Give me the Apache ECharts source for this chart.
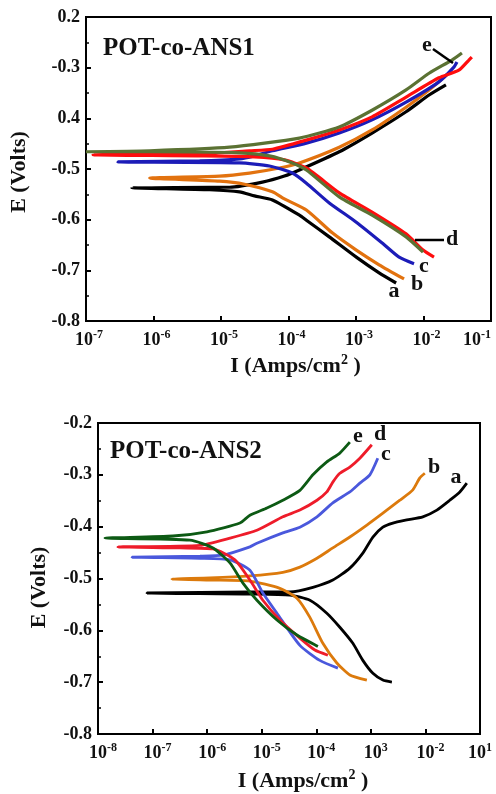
<!DOCTYPE html>
<html>
<head>
<meta charset="utf-8">
<script src="https://cdn.jsdelivr.net/npm/echarts@6/dist/echarts.min.js"></script>
<style>
html,body{margin:0;padding:0;background:#fff;}
#c{width:496px;height:794px;}
</style>
</head>
<body>
<div id="c"></div>
<script>
// ---------- data (I in A/cm2, E in V) ----------
const topTitle = 'POT-co-ANS1';
const botTitle = 'POT-co-ANS2';
const seriesNames = ['a', 'b', 'c', 'd', 'e'];

const topYLabels = ['-0.8', '-0.7', '-0.6', '-0.5', '0.4', '-0.3', '0.2'];
const botYLabels = ['-0.8', '-0.7', '-0.6', '-0.5', '-0.4', '-0.3', '-0.2'];
const topXExps = ['-7', '-6', '-5', '-4', '-3', '-2', '-1'];
const botXExps = ['-8', '-7', '-6', '-5', '-4', '3', '-2', '1'];

const topA = [[3.93e-3,-0.725],[2.20e-3,-0.705],[1.01e-3,-0.674],[4.02e-4,-0.634],[1.84e-4,-0.601],[1.45e-4,-0.591],[5.78e-5,-0.561],[3.13e-5,-0.553],[1.88e-5,-0.545],[6.79e-6,-0.541],[4.78e-7,-0.537],[6.79e-6,-0.536],[1.34e-5,-0.536],[4.11e-5,-0.526],[8.69e-5,-0.514],[1.45e-4,-0.502],[5.65e-4,-0.466],[1.73e-3,-0.429],[5.52e-3,-0.387],[1.21e-2,-0.354],[2.15e-2,-0.334]];
const topB = [[5.15e-3,-0.717],[2.20e-3,-0.689],[1.01e-3,-0.660],[4.45e-4,-0.626],[1.84e-4,-0.581],[8.69e-5,-0.559],[5.78e-5,-0.545],[2.23e-5,-0.530],[9.53e-6,-0.524],[8.81e-7,-0.518],[9.53e-6,-0.514],[2.64e-5,-0.508],[7.34e-5,-0.498],[1.45e-4,-0.488],[5.65e-4,-0.457],[1.73e-3,-0.423],[5.52e-3,-0.378],[1.21e-2,-0.344],[2.22e-2,-0.314]];
const topC = [[7.24e-3,-0.687],[4.35e-3,-0.674],[2.44e-3,-0.646],[1.01e-3,-0.605],[4.02e-4,-0.567],[1.84e-4,-0.528],[1.14e-4,-0.508],[5.22e-5,-0.494],[1.88e-5,-0.488],[2.97e-7,-0.486],[4.83e-6,-0.484],[1.88e-5,-0.480],[3.13e-5,-0.474],[5.78e-5,-0.464],[1.84e-4,-0.449],[5.65e-4,-0.429],[1.73e-3,-0.403],[5.52e-3,-0.368],[1.69e-2,-0.328],[2.82e-2,-0.299],[3.13e-2,-0.289]];
const topD = [[1.43e-2,-0.674],[9.84e-3,-0.660],[5.52e-3,-0.628],[1.73e-3,-0.585],[5.65e-4,-0.547],[1.84e-4,-0.498],[8.69e-5,-0.482],[3.13e-5,-0.476],[4.83e-6,-0.474],[1.27e-7,-0.472],[4.83e-6,-0.470],[2.64e-5,-0.464],[5.78e-5,-0.461],[1.84e-4,-0.443],[5.65e-4,-0.423],[1.73e-3,-0.397],[5.52e-3,-0.358],[1.69e-2,-0.320],[3.34e-2,-0.305],[4.70e-2,-0.285],[5.20e-2,-0.279]];
const topE = [[9.84e-3,-0.664],[5.52e-3,-0.634],[1.73e-3,-0.591],[5.65e-4,-0.555],[1.84e-4,-0.502],[1.14e-4,-0.488],[5.22e-5,-0.474],[1.88e-5,-0.468],[8.81e-7,-0.466],[1.0e-7,-0.466],[8.81e-7,-0.464],[1.34e-5,-0.457],[1.45e-4,-0.439],[5.65e-4,-0.417],[1.73e-3,-0.384],[5.52e-3,-0.344],[1.21e-2,-0.311],[2.64e-2,-0.285],[3.71e-2,-0.271]];

const botA = [[2.43e-3,-0.700],[1.66e-3,-0.696],[1.09e-3,-0.683],[7.13e-4,-0.658],[4.68e-4,-0.625],[2.70e-4,-0.594],[1.56e-4,-0.567],[7.64e-5,-0.542],[3.28e-5,-0.532],[6.08e-6,-0.530],[7.89e-8,-0.528],[6.08e-6,-0.526],[3.28e-5,-0.526],[8.67e-5,-0.517],[2.01e-4,-0.503],[4.12e-4,-0.480],[7.13e-4,-0.451],[1.09e-3,-0.420],[1.66e-3,-0.401],[2.53e-3,-0.393],[4.56e-3,-0.387],[8.95e-3,-0.381],[1.62e-2,-0.368],[2.80e-2,-0.349],[4.27e-2,-0.333],[5.73e-2,-0.316]];
const botB = [[8.45e-4,-0.696],[4.12e-4,-0.686],[2.38e-4,-0.663],[1.32e-4,-0.625],[7.64e-5,-0.575],[4.42e-5,-0.538],[2.15e-5,-0.519],[6.08e-6,-0.505],[1.12e-6,-0.503],[2.26e-7,-0.501],[1.12e-6,-0.499],[6.08e-6,-0.495],[2.44e-5,-0.488],[5.01e-5,-0.478],[1.03e-4,-0.461],[2.01e-4,-0.441],[4.12e-4,-0.420],[8.45e-4,-0.397],[1.66e-3,-0.374],[3.40e-3,-0.349],[5.88e-3,-0.329],[7.89e-3,-0.306],[9.75e-3,-0.297]];
const botC = [[2.49e-4,-0.673],[1.16e-4,-0.658],[5.01e-5,-0.629],[1.90e-5,-0.567],[1.05e-5,-0.528],[6.08e-6,-0.484],[2.62e-6,-0.464],[7.38e-7,-0.461],[4.20e-8,-0.459],[7.38e-7,-0.457],[1.95e-6,-0.455],[6.08e-6,-0.439],[8.17e-6,-0.432],[2.44e-5,-0.412],[5.01e-5,-0.401],[1.03e-4,-0.381],[2.01e-4,-0.354],[4.12e-4,-0.333],[6.29e-4,-0.316],[9.59e-4,-0.300],[1.34e-3,-0.268]];
const botD = [[1.63e-4,-0.648],[9.42e-5,-0.638],[5.01e-5,-0.615],[2.15e-5,-0.580],[1.05e-5,-0.542],[6.08e-6,-0.503],[3.23e-6,-0.464],[1.28e-6,-0.443],[3.18e-7,-0.441],[2.32e-8,-0.439],[7.38e-7,-0.436],[2.62e-6,-0.422],[8.17e-6,-0.407],[2.44e-5,-0.381],[5.01e-5,-0.368],[1.03e-4,-0.349],[1.56e-4,-0.333],[2.01e-4,-0.314],[2.70e-4,-0.297],[4.12e-4,-0.285],[6.29e-4,-0.268],[1.04e-3,-0.242]];
const botE = [[1.07e-4,-0.631],[4.42e-5,-0.609],[1.90e-5,-0.580],[8.17e-6,-0.542],[4.53e-6,-0.509],[2.62e-6,-0.470],[1.28e-6,-0.441],[4.84e-7,-0.426],[1.34e-8,-0.422],[2.37e-7,-0.418],[9.9e-7,-0.410],[3.99e-6,-0.393],[6.08e-6,-0.378],[1.245e-5,-0.364],[2.44e-5,-0.349],[5.01e-5,-0.330],[8.67e-5,-0.300],[1.56e-4,-0.275],[2.70e-4,-0.258],[4.12e-4,-0.237]];

const topColors = ['#000000', '#e2720f', '#1c1cb8', '#ff0d0d', '#5b7233'];
const botColors = ['#000000', '#dc7a0c', '#4a58dc', '#ee1c2a', '#0d5a14'];

// ---------- chart ----------
const FONT = '"Liberation Serif", "Times New Roman", serif';
const TXT = '#111111';
const chart = echarts.init(document.getElementById('c'), null, {renderer: 'canvas'});

function xLabel(exps, minExp, lead, maxAlign) {
  return {
    fontFamily: FONT, fontWeight: 'bold', fontSize: 18, color: TXT, margin: 8,
    showMinLabel: true, showMaxLabel: true, alignMaxLabel: maxAlign,
    formatter: v => {
      const k = Math.round(Math.log10(v)) - minExp;
      const pre = k < exps.length - 1 ? '{p|}' : '';
      return pre + '{b|10}{s|' + exps[k] + '}';
    },
    rich: {
      p: {width: lead, fontSize: 18, lineHeight: 22},
      b: {fontFamily: FONT, fontWeight: 'bold', fontSize: 18, color: TXT, lineHeight: 22},
      s: {fontFamily: FONT, fontWeight: 'bold', fontSize: 12, color: TXT, lineHeight: 12, verticalAlign: 'top'}
    }
  };
}
const nameRich = {
  n: {fontFamily: FONT, fontWeight: 'bold', fontSize: 22, color: TXT, lineHeight: 26},
  s: {fontFamily: FONT, fontWeight: 'bold', fontSize: 14, color: TXT, lineHeight: 14, verticalAlign: 'top'}
};
const axisLine = {show: true, lineStyle: {color: '#000', width: 2}};
const axisTick = {show: true, inside: true, length: 5, lineStyle: {color: '#000', width: 2}};

function yAxis(grid, labels, gap, shift) {
  return {
    type: 'value', gridIndex: grid, min: -0.8, max: -0.2, interval: 0.1,
    axisLine, axisTick, splitLine: {show: false},
    minorTick: {show: true, splitNumber: 2, length: 3, lineStyle: {color: '#000', width: 1.5}},
    axisLabel: {
      fontFamily: FONT, fontWeight: 'bold', fontSize: 18, color: TXT, margin: 6,
      formatter: v => labels[Math.round((v + 0.8) * 10)]
    },
    name: 'E (Volts)', nameLocation: 'middle', nameRotate: 90, nameGap: gap,
    nameTextStyle: {fontFamily: FONT, fontWeight: 'bold', fontSize: 22, color: TXT, padding: [0, shift, 0, 0]}
  };
}
function xAxis(grid, min, max, exps, minExp, gap, pad, lead, maxAlign) {
  return {
    type: 'log', logBase: 10, gridIndex: grid, min, max,
    axisLine, axisTick, splitLine: {show: false}, minorTick: {show: false},
    axisLabel: xLabel(exps, minExp, lead, maxAlign),
    name: '{n|I (Amps/cm}{s|2}{n| )}', nameLocation: 'middle', nameGap: gap,
    nameTextStyle: {padding: [0, 0, 0, pad], rich: nameRich}
  };
}

const series = [];
[topA, topB, topC, topD, topE].forEach((d, i) => series.push({
  type: 'line', name: 'top-' + seriesNames[i], xAxisIndex: 0, yAxisIndex: 0, data: d,
  showSymbol: false, symbol: 'none', smooth: 0.2, lineStyle: {color: topColors[i], width: 3.2}, z: 2 + i
}));
[botA, botB, botC, botD, botE].forEach((d, i) => series.push({
  type: 'line', name: 'bot-' + seriesNames[i], xAxisIndex: 1, yAxisIndex: 1, data: d,
  showSymbol: false, symbol: 'none', smooth: 0.2, lineStyle: {color: botColors[i], width: 2.8}, z: 2 + i
}));

const letterFont = 'bold 22px ' + FONT;
function letter(t, x, y) {
  return {type: 'text', x, y, z: 20, style: {text: t, font: letterFont, fill: TXT, align: 'center', verticalAlign: 'middle'}};
}
function leader(x1, y1, x2, y2) {
  return {type: 'line', z: 20, shape: {x1, y1, x2, y2}, style: {stroke: '#000', lineWidth: 2.5}};
}

chart.setOption({
  animation: false,
  backgroundColor: '#ffffff',
  grid: [
    {left: 86, top: 17, width: 405, height: 304, show: true, borderColor: '#000', borderWidth: 2, backgroundColor: 'transparent', outerBoundsMode: 'none', containLabel: false},
    {left: 98, top: 423, width: 382, height: 311, show: true, borderColor: '#000', borderWidth: 2, backgroundColor: 'transparent', outerBoundsMode: 'none', containLabel: false}
  ],
  xAxis: [
    xAxis(0, 1e-7, 1e-1, topXExps, -7, 32, 14, 6, 'right'),
    xAxis(1, 1e-8, 1e-1, botXExps, -8, 34, 28, 10, 'center')
  ],
  yAxis: [yAxis(0, topYLabels, 56, 6), yAxis(1, botYLabels, 48, 18)],
  series,
  graphic: [
    {type: 'text', x: 103, y: 36, z: 20, style: {text: topTitle, font: 'bold 25px ' + FONT, fill: TXT}},
    {type: 'text', x: 110, y: 439, z: 20, style: {text: botTitle, font: 'bold 25px ' + FONT, fill: TXT}},
    letter('e', 427, 45), leader(433, 49, 453, 63),
    letter('d', 452, 239), leader(415, 240, 444, 240),
    letter('c', 424, 266), letter('b', 417, 284), letter('a', 394, 291),
    letter('e', 358, 436), letter('d', 380, 434), letter('c', 386, 454),
    letter('b', 434, 467), letter('a', 456, 477)
  ]
});
</script>
</body>
</html>
